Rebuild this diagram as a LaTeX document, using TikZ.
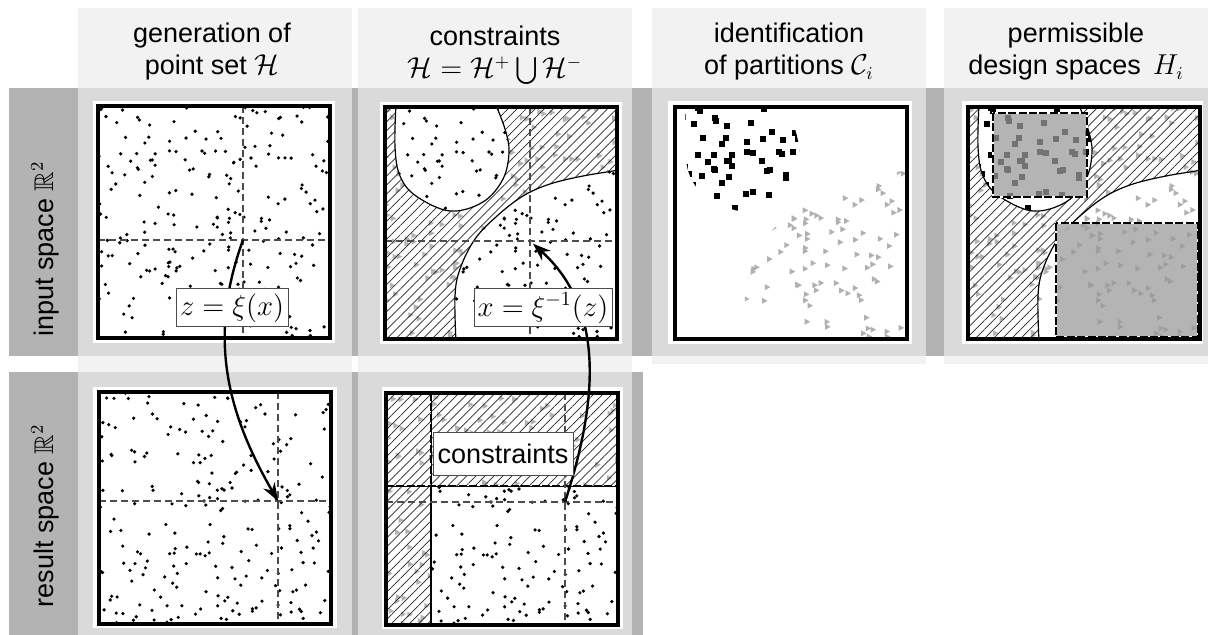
\documentclass[tikz,border=0pt]{standalone}
\usepackage{fontspec}
\setmainfont{Liberation Sans}
\usepackage{amsmath,amssymb}
\usetikzlibrary{patterns.meta,arrows.meta}
\definecolor{hdrc}{HTML}{F2F2F2}
\definecolor{cellc}{HTML}{DADADA}
\definecolor{darkc}{HTML}{B3B3B3}
\definecolor{tric}{HTML}{B0B0B0}
\definecolor{rectc}{HTML}{B4B4B4}
\newcommand\mkpts[3]{%
  \pgfmathsetseed{#1}%
  \foreach \i in {1,...,#2}{%
    \pgfmathsetmacro\px{rnd*232}%
    \pgfmathsetmacro\py{rnd*232}%
    #3}}
\newcommand\sqm{\fill (\px-3,\py-3) rectangle (\px+3,\py+3);}
\newcommand\trim{\fill (\px-2.5,\py-3) -- (\px+3,\py) -- (\px-2.5,\py+3) -- cycle;}
\newcommand\dotm{\fill (\px,\py) circle[radius=0.9pt];}
\begin{document}
\begin{tikzpicture}[x=0.5pt,y=-0.5pt,
  blobp/.style={insert path={plot[smooth,tension=0.6] coordinates {(11,-4) (10,40) (15,69) (31,89) (65,104) (98,95) (118,72) (124,45) (120,22) (110,-4)} -- cycle}},
  curvep/.style={insert path={plot[smooth,tension=0.6] coordinates {(71,236) (70,189) (75,162) (90,132) (112,109) (138,89) (165,77) (198,69) (228,64) (236,62)} -- (236,236) -- cycle}},
  hregp/.style={insert path={(0,0) rectangle (232,232) [blobp] [curvep]}},
  frm/.style={line width=1.6pt},
  bnd/.style={line width=0.6pt},
  xhair/.style={draw=black!70,line width=0.55pt,dash pattern=on 3.5pt off 2pt},
  hatch/.style={pattern={Lines[angle=45,distance=3.2pt,line width=0.35pt]},pattern color=black!85},
  veil/.style={fill=white,fill opacity=0.7},
  arr/.style={line width=1.2pt,-{Stealth[length=9pt,width=6.5pt]}},
  lbl/.style={draw=black!70,line width=0.5pt,fill=white,inner sep=1pt},
  hd/.style={align=center,font=\fontsize{13.5}{16}\selectfont},
  rl/.style={rotate=90,font=\fontsize{13.5}{16}\selectfont},
  dbord/.style={line width=1.3pt,dash pattern=on 4pt off 1.2pt},
]
\useasboundingbox (0,0) rectangle (1208,635);
% ---------- backgrounds ----------
\fill[hdrc] (78,8) rectangle (352,372);
\fill[hdrc] (358,8) rectangle (632,372);
\fill[hdrc] (652,8) rectangle (926,364);
\fill[hdrc] (944,8) rectangle (1208,364);
\fill[cellc] (78,88) rectangle (352,356);
\fill[cellc] (358,88) rectangle (632,356);
\fill[cellc] (652,88) rectangle (926,356);
\fill[cellc] (944,88) rectangle (1208,356);
\fill[darkc] (352,88) rectangle (358,356);
\fill[darkc] (632,88) rectangle (652,356);
\fill[darkc] (926,88) rectangle (944,356);
\fill[darkc] (9,88) rectangle (78,356);
\fill[darkc] (9,372) rectangle (78,635);
\fill[cellc] (78,372) rectangle (352,635);
\fill[cellc] (358,372) rectangle (632,635);
\fill[darkc] (352,372) rectangle (358,635);
\fill[darkc] (632,372) rectangle (643,635);
% ---------- headers ----------
\node[hd] (h1) at (212,52) {generation of\\point set $\mathcal{H}$\hspace{8pt}};
\node[hd] (h2) at (495,52) {constraints\\$\mathcal{H}=\mathcal{H}^+\mathop{\smash{\bigcup}}\mathcal{H}^-$};
\node[hd] (h3) at (789,52) {identification\\of partitions $\mathcal{C}_i$};
\node[hd] (h4) at (1076,52) {permissible\\design spaces\ \,$H_i$};
\node[rl] (r1) at (45,249) {input space $\mathbb{R}^2$};
\node[rl] (r2) at (45,516) {result space $\mathbb{R}^2$};
% ---------- panel 1 ----------
\begin{scope}[shift={(98,106)}]
  \fill[white] (-5,-5) rectangle (237,237);
  \begin{scope}\clip (0,0) rectangle (232,232);
    \mkpts{11}{225}{\dotm}
  \end{scope}
  \draw[xhair] (145,0) -- (145,232) (0,134) -- (232,134);
  \coordinate (c1) at (145,134);
  \draw[frm] (0,0) rectangle (232,232);
\end{scope}
% ---------- panel 2 ----------
\begin{scope}[shift={(385,107)}]
  \fill[white] (-5,-5) rectangle (237,237);
  \begin{scope}\clip (0,0) rectangle (232,232);
    \begin{scope}[even odd rule]\clip[hregp];
      \mkpts{11}{225}{\trim}
    \end{scope}
    \begin{scope}\clip[blobp];
      \mkpts{11}{225}{\dotm}
    \end{scope}
    \begin{scope}\clip[curvep];
      \mkpts{11}{225}{\dotm}
    \end{scope}
    \path[veil,even odd rule,hregp];
    \path[hatch,even odd rule,hregp];
    \draw[bnd,blobp];
    \draw[bnd,curvep];
  \end{scope}
  \draw[xhair] (145,0) -- (145,232) (0,134) -- (232,134);
  \coordinate (c2) at (145,134);
  \draw[frm] (0,0) rectangle (232,232);
\end{scope}
% ---------- panel 3 ----------
\begin{scope}[shift={(675,107)}]
  \fill[white] (-7,-6) rectangle (237,237);
  \begin{scope}\clip (0,0) rectangle (232,232);
    \begin{scope}\clip[blobp];
      \mkpts{11}{225}{\sqm}
    \end{scope}
    \begin{scope}[tric]\clip[curvep];
      \mkpts{11}{225}{\trim}
    \end{scope}
  \end{scope}
  \draw[frm] (0,0) rectangle (232,232);
\end{scope}
% ---------- panel 4 ----------
\begin{scope}[shift={(968,107)}]
  \fill[white] (-6,-6) rectangle (235,237);
  \begin{scope}\clip (0,0) rectangle (232,232);
    \begin{scope}[even odd rule]\clip[hregp];
      \mkpts{11}{225}{\trim}
    \end{scope}
    \begin{scope}\clip[blobp];
      \mkpts{11}{225}{\sqm}
    \end{scope}
    \begin{scope}[tric]\clip[curvep];
      \mkpts{11}{225}{\trim}
    \end{scope}
    \path[veil,even odd rule,hregp];
    \path[hatch,even odd rule,hregp];
    \draw[bnd,blobp];
    \draw[bnd,curvep];
    % design spaces
    \fill[rectc] (25,6) rectangle (119,90);
    \fill[rectc] (88,116) rectangle (230,230);
    \begin{scope}\clip (25,6) rectangle (119,90);
      \begin{scope}[black!55]\clip[blobp];
        \mkpts{11}{225}{\sqm}
      \end{scope}
    \end{scope}
    \begin{scope}\clip (88,116) rectangle (230,230);
      \begin{scope}[black!38]\clip[curvep];
        \mkpts{11}{225}{\trim}
      \end{scope}
    \end{scope}
    \draw[white,line width=1.3pt] (25,6) rectangle (119,90) (88,116) rectangle (230,230);
    \draw[dbord] (25,6) rectangle (119,90) (88,116) rectangle (230,230);
  \end{scope}
  \draw[frm] (0,0) rectangle (232,232);
\end{scope}
% ---------- panel 5 ----------
\begin{scope}[shift={(99,392)}]
  \fill[white] (-6,-5) rectangle (238,236);
  \begin{scope}\clip (0,0) rectangle (232,232);
    \mkpts{29}{225}{\dotm}
  \end{scope}
  \draw[xhair] (179,0) -- (179,232) (0,109) -- (232,109);
  \coordinate (c5) at (179,109);
  \draw[frm] (0,0) rectangle (232,232);
\end{scope}
% ---------- panel 6 ----------
\begin{scope}[shift={(386,393)}]
  \fill[white] (-4,-6) rectangle (237,236);
  \begin{scope}\clip (0,0) rectangle (232,232);
    \begin{scope}\clip (0,0) rectangle (45,232) (45,0) rectangle (232,93);
      \mkpts{29}{225}{\trim}
    \end{scope}
    \begin{scope}\clip (45,93) rectangle (232,232);
      \mkpts{29}{225}{\dotm}
    \end{scope}
    \path[veil] (0,0) rectangle (45,232) (45,0) rectangle (232,93);
    \path[hatch] (0,0) rectangle (45,232) (45,0) rectangle (232,93);
    \draw[line width=1pt] (45,93) -- (45,232);
    \draw[line width=0.5pt] (0,93) -- (232,93) (45,0) -- (45,93);
    \draw[dbord] (45,0) -- (45,93) (0,93) -- (232,93);
  \end{scope}
  \draw[xhair] (179,0) -- (179,232) (0,109) -- (232,109);
  \coordinate (c6) at (179,109);
  \draw[frm] (0,0) rectangle (232,232);
\end{scope}
% ---------- arrows ----------
\draw[arr] (c1) to[out=250,in=120] (c5);
\draw[arr,shorten >=2pt] (c6) to[out=72,in=-42] (c2);
% ---------- labels ----------
\node[lbl,minimum width=56pt,minimum height=19pt,font=\fontsize{14.5}{16}\selectfont] (l1) at (232,308) {$z=\xi(x)$};
\node[lbl,minimum width=69pt,minimum height=19pt,font=\fontsize{14.5}{16}\selectfont] (l2) at (543,308) {$x=\xi^{-1}(z)$};
\node[lbl,minimum width=70pt,minimum height=21.5pt,font=\fontsize{13.5}{15}\selectfont] (l3) at (503,454) {constraints};
\end{tikzpicture}
\end{document}
